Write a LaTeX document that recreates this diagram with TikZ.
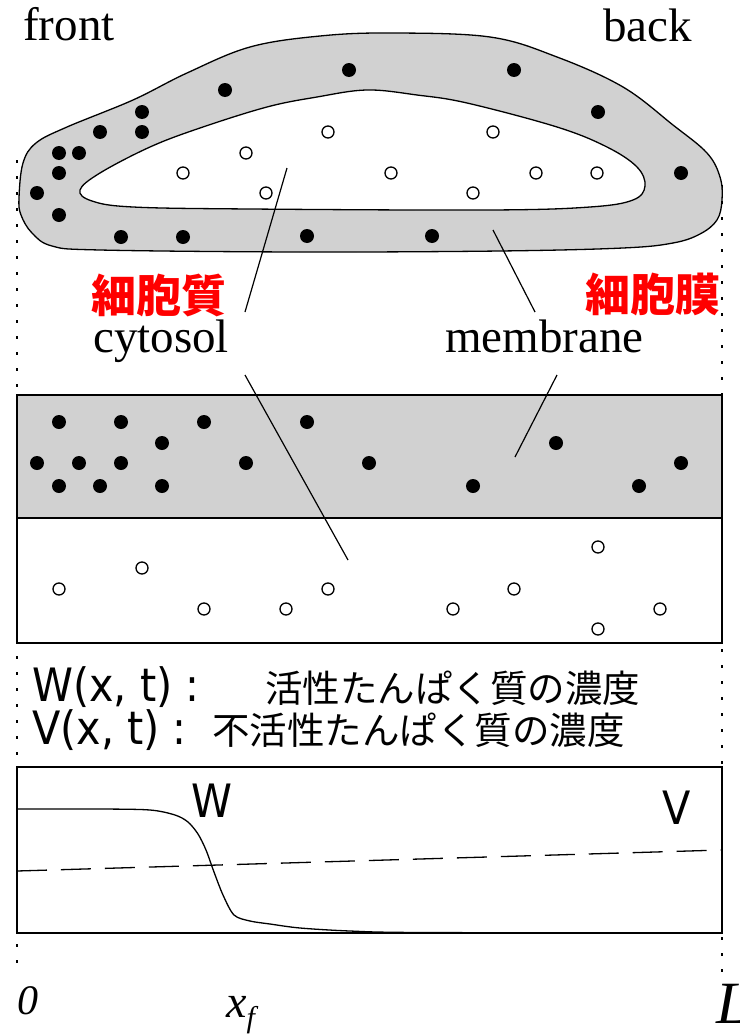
\documentclass[tikz,border=0pt]{standalone}
\usepackage{fontspec}
\setmainfont{Liberation Serif}
\newfontfamily\jpfont{Noto Sans CJK JP}
\newfontfamily\labfont{DejaVu Sans}[FakeStretch=0.9]

\tikzset{
    txt/.style = {inner sep=0pt, anchor=base west},
    serif/.style = {txt, font=\fontsize{47}{50}\selectfont},
    redlabel/.style = {inner sep=0pt, text=red, font=\jpfont\bfseries\fontsize{45}{48}\selectfont},
    latin/.style = {txt, font=\labfont\fontsize{46}{50}\selectfont},
    jp/.style = {txt, font=\jpfont\fontsize{37.5}{40}\selectfont},
    memdot/.style = {fill=black},
    cytdot/.style = {draw=black, line width=1.3pt, fill=white},
    leader/.style = {line width=1.2pt},
    guide/.style = {line width=1.8pt, dash pattern=on 3pt off 13pt},
    boxframe/.style = {line width=1.5pt},
}

\begin{document}
\begin{tikzpicture}[x=1pt, y=-1pt]
    \useasboundingbox (0,0) rectangle (739,1036);

    % dotted guides at both ends
    \draw[guide] (17,160) -- (17,975);
    \draw[guide] (722,185) -- (722,975);

    % cell: membrane ring and cytosol inside
    \filldraw[
        fill = black!18,
        line width = 1.3pt
    ]
    plot[smooth cycle, tension=0.6] coordinates {
        (19,198) (23,163) (36,143) (67,127) (133,100) (187,73) (250,47)
        (320,36) (390,33) (490,37) (557,57) (623,87) (673,125) (707,153)
        (720,177) (722,200) (717,220) (700,234) (673,243) (623,248)
        (500,251) (300,252) (100,250) (52,246) (32,233) (21,215)};
    \filldraw[
        fill = white,
        line width = 1.3pt
    ]
    plot[smooth cycle, tension=0.6] coordinates {
        (80,190) (100,173) (150,147) (200,128) (267,107) (317,97) (367,90)
        (417,95) (467,103) (557,127) (607,147) (637,167) (645,186)
        (633,200) (590,207) (490,210) (250,209) (133,207) (92,201)};

    \foreach \x/\y in {349/70, 514/70, 225/90, 142/112, 598/112, 142/132,
        100/132, 59/153, 79/153, 59/173, 681/173, 37/193, 59/215, 121/237,
        183/237, 307/236, 432/236}
        \fill[memdot] (\x,\y) circle[radius=7pt];
    \foreach \x/\y in {328/132, 493/132, 246/153, 183/173, 391/173, 536/173,
        597/173, 266/193, 473/193}
        \filldraw[cytdot] (\x,\y) circle[radius=6pt];

    % labels
    \node[serif] (front) at (23,40) {front};
    \node[serif] (back) at (603,41) {back};
    \node[serif] (cytosol) at (93,352) {cytosol};
    \node[serif] (membrane) at (445,352) {membrane};
    \node[redlabel] (cytosolJP) at (159,295) {細胞質};
    \node[redlabel] (membraneJP) at (653,294) {細胞膜};

    % unrolled strip
    \filldraw[boxframe, fill=black!18] (17,395) rectangle (722,518);
    \draw[boxframe] (17,518) rectangle (722,643);

    \foreach \x/\y in {59/422, 121/422, 204/422, 307/422, 162/443, 556/443,
        37/463, 79/463, 121/463, 246/463, 369/463, 681/463, 59/486, 100/486,
        162/486, 473/486, 639/486}
        \fill[memdot] (\x,\y) circle[radius=7pt];
    \foreach \x/\y in {598/547, 142/568, 59/589, 328/589, 514/589, 204/609,
        286/609, 453/609, 660/609, 598/629}
        \filldraw[cytdot] (\x,\y) circle[radius=6pt];

    % leader lines
    \coordinate (cytA) at (287,168);
    \coordinate (cytB) at (245,312);
    \coordinate (cytC) at (245,375);
    \coordinate (cytD) at (348,560);
    \coordinate (memA) at (493,230);
    \coordinate (memB) at (535,312);
    \coordinate (memC) at (557,375);
    \coordinate (memD) at (515,457);
    \draw[leader] (cytA) -- (cytB);
    \draw[leader] (cytC) -- (cytD);
    \draw[leader] (memA) -- (memB);
    \draw[leader] (memC) -- (memD);

    % definitions
    \node[latin] (wdef) at (32,701) {W(x, t) :};
    \node[jp] (wdefJP) at (265,702) {活性たんぱく質の濃度};
    \node[latin] (vdef) at (32,744) {V(x, t) :};
    \node[jp] (vdefJP) at (212,744) {不活性たんぱく質の濃度};

    % profiles
    \draw[boxframe] (17,767) rectangle (722,933);
    \draw[line width=1.3pt] plot[smooth, tension=0.5] coordinates {
        (17,809) (100,809) (150,810) (175,815) (188,822) (198,834)
        (206,850) (214,872) (223,895) (234,915) (250,921) (270,924)
        (300,928) (350,931) (420,932.5) (722,933)};
    \draw[line width=1.3pt, dash pattern=on 30pt off 14pt] (17,871) -- (722,850);
    \node[latin, anchor=center] (wlab) at (212,801) {W};
    \node[latin, anchor=center] (vlab) at (677,808) {V};

    % axis marks
    \node[txt, font=\fontsize{42}{42}\selectfont\itshape] (zero) at (17,1014) {0};
    \node[txt, font=\fontsize{46}{46}\selectfont\itshape] (xf) at (226,1017)
        {x\raisebox{-10pt}{\fontsize{30}{30}\selectfont f}};
    \node[txt, font=\fontsize{60}{60}\selectfont\itshape] (ell) at (716,1023) {L};
\end{tikzpicture}
\end{document}
